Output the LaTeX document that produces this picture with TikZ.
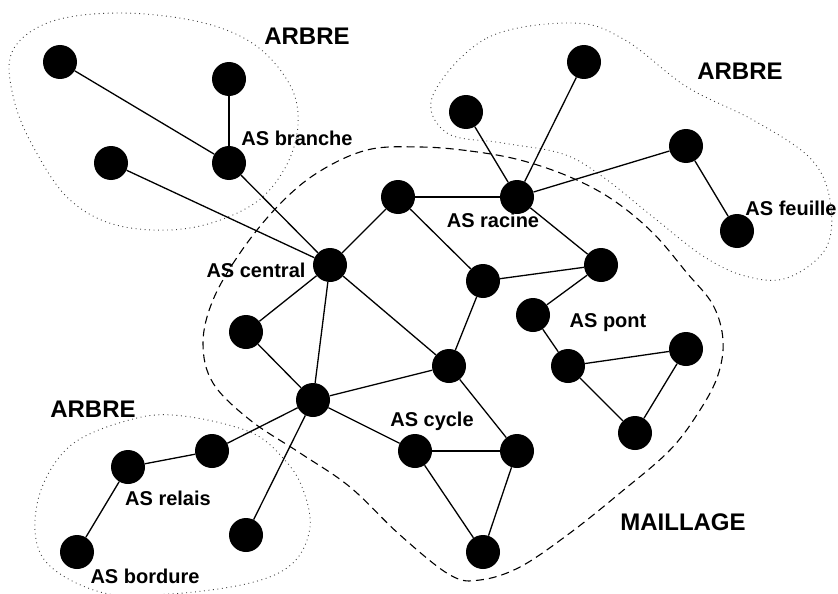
\documentclass[tikz,border=0pt]{standalone}
\usepackage{fontspec}
\setmainfont{Liberation Sans}
\begin{document}
\begin{tikzpicture}[x=1pt,y=-1pt,
  asnode/.style={circle,fill=black,draw=none,minimum size=34pt,inner sep=0pt},
  link/.style={line width=1.3pt},
  lbl/.style={font=\bfseries\fontsize{20}{24}\selectfont,anchor=base,inner sep=0pt},
  big/.style={font=\bfseries\fontsize{24}{28}\selectfont,anchor=base,inner sep=0pt},
  treezone/.style={line width=0.9pt,dash pattern=on 0.9pt off 3.6pt,draw=black!75},
  meshzone/.style={line width=1.1pt,dash pattern=on 8pt off 5pt}]
\useasboundingbox (0,0) rectangle (838,594);
% zones
\draw[treezone] plot[smooth cycle,tension=0.6] coordinates {
  (12,52) (50,22) (120,13) (200,22) (255,45) (290,85) (298,125) (285,168)
  (252,205) (190,228) (120,226) (70,200) (35,150) (14,100)};
\draw[treezone] plot[smooth cycle,tension=0.6] coordinates {
  (433,95) (487,38) (573,23) (625,40) (687,87) (753,120) (810,158) (830,200)
  (826,248) (787,278) (745,276) (703,256) (653,217) (603,177) (563,154)
  (503,143) (447,133)};
\draw[treezone] plot[smooth cycle,tension=0.6] coordinates {
  (183,416) (133,419) (70,446) (38,500) (43,558) (100,592) (170,594) (250,583)
  (293,563) (310,527) (302,487) (283,458) (250,432)};
\draw[meshzone] plot[smooth cycle,tension=0.6] coordinates {
  (420,147) (470,151) (520,160) (570,177) (613,200) (653,233) (687,273)
  (713,305) (723,340) (718,375) (700,410) (670,450) (620,493) (570,533)
  (520,567) (480,580) (450,575) (400,535) (350,487) (300,453) (250,420)
  (213,383) (203,343) (213,300) (240,253) (277,207) (317,173) (367,150)};
% nodes
\node[asnode] (n1) at (60,62) {};
\node[asnode] (n2) at (229,79) {};
\node[asnode] (n3) at (229,163) {};
\node[asnode] (n4) at (111,163) {};
\node[asnode] (n5) at (330,265) {};
\node[asnode] (n6) at (398,197) {};
\node[asnode] (n7) at (517,197) {};
\node[asnode] (n8) at (466,112) {};
\node[asnode] (n9) at (584,62) {};
\node[asnode] (n10) at (686,146) {};
\node[asnode] (n11) at (737,231) {};
\node[asnode] (n12) at (483,281) {};
\node[asnode] (n13) at (601,265) {};
\node[asnode] (n14) at (533,315) {};
\node[asnode] (n15) at (246,332) {};
\node[asnode] (n16) at (449,366) {};
\node[asnode] (n17) at (568,366) {};
\node[asnode] (n18) at (686,349) {};
\node[asnode] (n19) at (635,433) {};
\node[asnode] (n20) at (313,400) {};
\node[asnode] (n21) at (212,451) {};
\node[asnode] (n22) at (128,467) {};
\node[asnode] (n23) at (77,552) {};
\node[asnode] (n24) at (246,535) {};
\node[asnode] (n25) at (415,451) {};
\node[asnode] (n26) at (517,451) {};
\node[asnode] (n27) at (483,552) {};
% links
\draw[link] (n1) -- (n3);
\draw[link] (n2) -- (n3);
\draw[link] (n3) -- (n5);
\draw[link] (n4) -- (n5);
\draw[link] (n5) -- (n6);
\draw[link] (n6) -- (n7);
\draw[link] (n7) -- (n8);
\draw[link] (n7) -- (n9);
\draw[link] (n7) -- (n10);
\draw[link] (n10) -- (n11);
\draw[link] (n7) -- (n13);
\draw[link] (n6) -- (n12);
\draw[link] (n12) -- (n13);
\draw[link] (n12) -- (n16);
\draw[link] (n13) -- (n14);
\draw[link] (n14) -- (n17);
\draw[link] (n17) -- (n18);
\draw[link] (n18) -- (n19);
\draw[link] (n17) -- (n19);
\draw[link] (n5) -- (n15);
\draw[link] (n15) -- (n20);
\draw[link] (n5) -- (n20);
\draw[link] (n5) -- (n16);
\draw[link] (n20) -- (n16);
\draw[link] (n20) -- (n21);
\draw[link] (n21) -- (n22);
\draw[link] (n22) -- (n23);
\draw[link] (n20) -- (n24);
\draw[link] (n20) -- (n25);
\draw[link] (n25) -- (n26);
\draw[link] (n25) -- (n27);
\draw[link] (n26) -- (n27);
\draw[link] (n16) -- (n26);
% labels
\node[big] (t1) at (307,45) {ARBRE};
\node[big] (t2) at (740,79) {ARBRE};
\node[big] (t3) at (93,417) {ARBRE};
\node[big] (t4) at (683,530) {MAILLAGE};
\node[lbl] (l1) at (297,145) {AS branche};
\node[lbl] (l2) at (493,227) {AS racine};
\node[lbl] (l3) at (791,215) {AS feuille};
\node[lbl] (l4) at (256,277) {AS central};
\node[lbl] (l5) at (608,327) {AS pont};
\node[lbl] (l6) at (432,426) {AS cycle};
\node[lbl] (l7) at (168,505) {AS relais};
\node[lbl] (l8) at (145,583) {AS bordure};
\end{tikzpicture}
\end{document}
